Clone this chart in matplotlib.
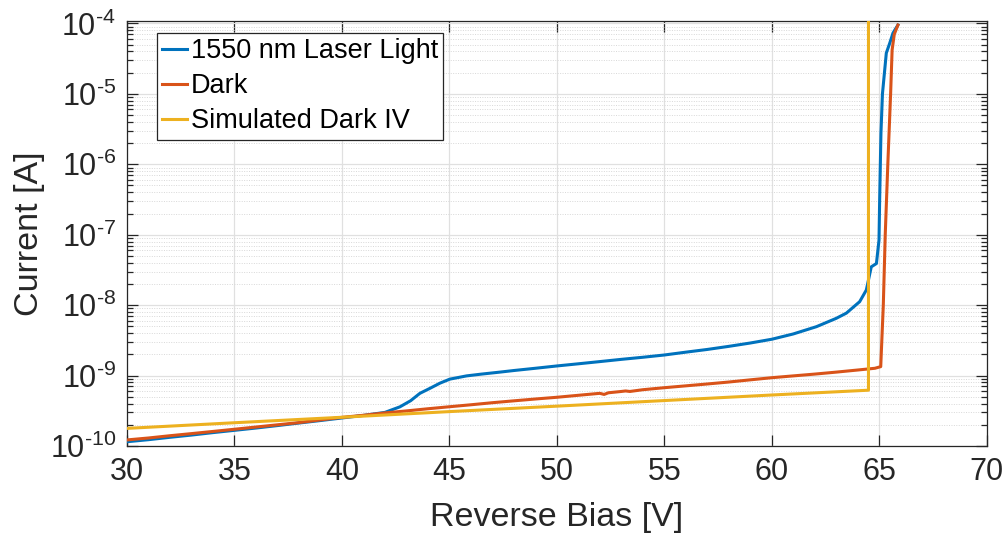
import matplotlib
matplotlib.use("Agg")
import matplotlib.pyplot as plt
from matplotlib.ticker import LogLocator, NullFormatter

plt.rcParams["font.family"] = ["Liberation Sans", "DejaVu Sans"]
plt.rcParams["mathtext.fontset"] = "custom"
plt.rcParams["mathtext.rm"] = "Liberation Sans"
plt.rcParams["mathtext.default"] = "regular"

# Reverse bias sweep under 1550 nm illumination
light_v = [30, 31, 32, 33, 34, 35, 36, 37, 38, 39, 40, 41, 42, 42.7, 43.2, 43.63,
           44.1, 44.56, 45.02, 45.8, 46.5, 47.35, 48, 49, 50, 51, 52, 53, 54, 55,
           56, 57, 58, 59, 60, 61, 62.08, 63, 63.47, 64.09, 64.4, 64.63, 64.87,
           64.99, 65.02, 65.08, 65.15, 65.33, 65.49, 65.64, 65.87]
light_i = [1.15e-10, 1.23e-10, 1.33e-10, 1.43e-10, 1.55e-10, 1.67e-10, 1.80e-10,
           1.95e-10, 2.12e-10, 2.30e-10, 2.50e-10, 2.72e-10, 3.0e-10, 3.6e-10,
           4.4e-10, 5.6e-10, 6.6e-10, 7.8e-10, 8.9e-10, 9.9e-10, 1.05e-9, 1.12e-9,
           1.18e-9, 1.27e-9, 1.37e-9, 1.47e-9, 1.58e-9, 1.70e-9, 1.82e-9, 1.96e-9,
           2.15e-9, 2.35e-9, 2.6e-9, 2.9e-9, 3.28e-9, 3.9e-9, 4.95e-9, 6.5e-9,
           7.7e-9, 1.12e-8, 1.64e-8, 3.5e-8, 3.9e-8, 8.4e-8, 3.1e-7, 2.75e-6,
           1.0e-5, 3.8e-5, 5.25e-5, 7.3e-5, 9.5e-5]

# Dark current sweep
dark_v = [30, 31, 32, 33, 34, 35, 36, 37, 38, 39, 40, 41, 42, 43, 44, 45, 46, 47,
          48, 49, 50, 51, 52, 52.2, 52.4, 53, 53.2, 53.4, 54, 55, 56, 57, 58, 59,
          60, 61, 62, 63, 64, 64.8, 65.07, 65.19, 65.28, 65.40, 65.53, 65.6,
          65.7, 65.87]
dark_i = [1.22e-10, 1.30e-10, 1.40e-10, 1.50e-10, 1.61e-10, 1.73e-10, 1.86e-10,
          2.0e-10, 2.15e-10, 2.35e-10, 2.55e-10, 2.73e-10, 2.95e-10, 3.15e-10,
          3.38e-10, 3.61e-10, 3.85e-10, 4.12e-10, 4.38e-10, 4.65e-10, 4.92e-10,
          5.25e-10, 5.6e-10, 5.4e-10, 5.7e-10, 5.95e-10, 6.05e-10, 5.95e-10,
          6.3e-10, 6.73e-10, 7.15e-10, 7.6e-10, 8.1e-10, 8.7e-10, 9.33e-10,
          9.9e-10, 1.05e-9, 1.12e-9, 1.2e-9, 1.27e-9, 1.34e-9, 1.0e-8, 1.0e-7,
          1.0e-6, 1.0e-5, 4.2e-5, 7.0e-5, 9.5e-5]

# Simulated dark IV with breakdown at 64.5 V
sim_v = [30, 35, 40, 45, 50, 55, 60, 64.5, 64.5]
sim_i = [1.78e-10, 2.14e-10, 2.56e-10, 3.08e-10, 3.68e-10, 4.42e-10, 5.3e-10,
         6.2e-10, 1.0e-3]

x_ticks = [30, 35, 40, 45, 50, 55, 60, 65, 70]
y_ticks = [1e-10, 1e-9, 1e-8, 1e-7, 1e-6, 1e-5, 1e-4]
y_exponents = ["10", "9", "8", "7", "6", "5", "4"]
# exponent written with a hyphen glyph rather than a math minus
y_tick_labels = ["$10^{\u2010" + e + "}$" for e in y_exponents]

c_light = "#0072BD"
c_dark = "#D95319"
c_sim = "#EDB120"
axis_col = "#262626"

fig = plt.figure(figsize=(10.06, 5.33), dpi=100)
ax = fig.add_axes([0.1262, 0.1632, 0.9808 - 0.1262, 0.9615 - 0.1632])

ax.plot(light_v, light_i, color=c_light, lw=2.2, label="1550 nm Laser Light", zorder=3)
ax.plot(dark_v, dark_i, color=c_dark, lw=2.2, label="Dark", zorder=3)
ax.plot(sim_v, sim_i, color=c_sim, lw=2.2, label="Simulated Dark IV", zorder=3)

ax.set_yscale("log")
ax.set_xlim(30, 70)
ax.set_ylim(1e-10, 1.1e-4)

ax.set_xticks(x_ticks)
ax.set_xticklabels([str(t) for t in x_ticks])
ax.set_yticks(y_ticks)
ax.set_yticklabels(y_tick_labels)
ax.yaxis.set_minor_locator(LogLocator(base=10, subs=range(2, 10), numticks=20))
ax.yaxis.set_minor_formatter(NullFormatter())

ax.grid(True, which="major", color="#e0e0e0", lw=0.9, ls="-", zorder=0)
ax.grid(True, which="minor", axis="y", color="#d8d8d8", lw=0.7, ls=(0, (1, 1.5)), zorder=0)
ax.set_axisbelow(True)

ax.tick_params(which="both", direction="in", top=True, right=True,
               colors=axis_col, width=0.9)
ax.tick_params(axis="x", labelsize=22)
ax.tick_params(axis="y", labelsize=22)
ax.tick_params(which="major", length=8, pad=8)
ax.tick_params(which="minor", length=4)
for sp in ax.spines.values():
    sp.set_color(axis_col)
    sp.set_linewidth(0.9)

ax.set_xlabel("Reverse Bias [V]", fontsize=24.5, color=axis_col, labelpad=11)
ax.set_ylabel("Current [A]", fontsize=24.5, color=axis_col, labelpad=3)

leg = ax.legend(loc="upper left", bbox_to_anchor=(0.035, 0.971), borderaxespad=0,
                fontsize=19.5, handlelength=0.92, handletextpad=0.12, borderpad=0.2,
                labelspacing=0.33, fancybox=False, framealpha=1, edgecolor=axis_col)
leg.get_frame().set_linewidth(0.9)
for t in leg.get_texts():
    t.set_color("black")

fig.savefig("out.png", dpi=100)
